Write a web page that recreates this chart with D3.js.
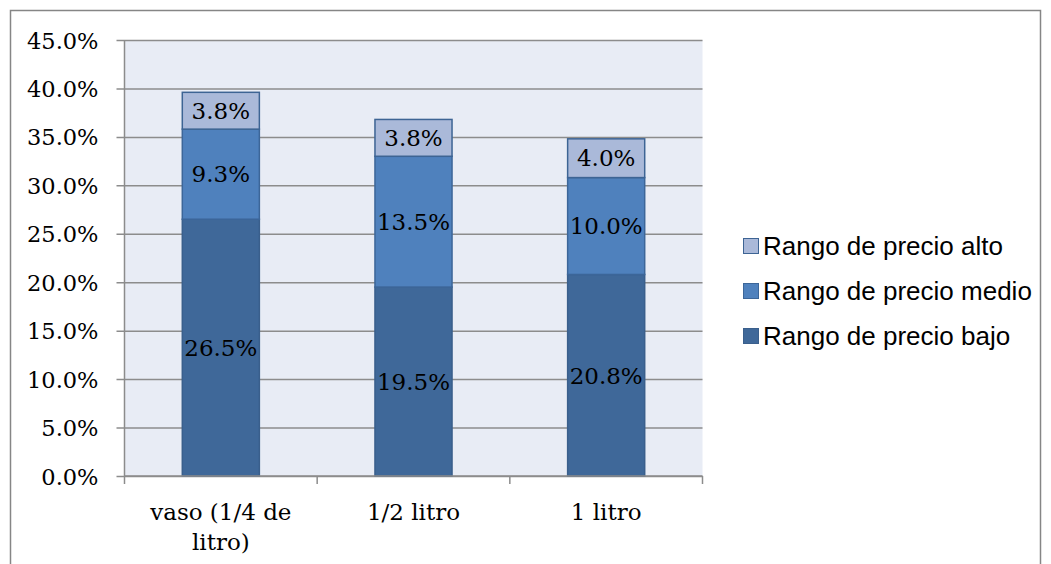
<!DOCTYPE html>
<html>
<head>
<meta charset="utf-8">
<script src="https://cdn.jsdelivr.net/npm/d3@7"></script>
<style>
  html, body { margin: 0; padding: 0; background: #fff; }
  svg { display: block; }
</style>
</head>
<body>
<svg id="chart" width="1051" height="564"></svg>
<script>
// Data
const categories = ["vaso (1/4 de litro)", "1/2 litro", "1 litro"];
const categoryLines = [["vaso (1/4 de", "litro)"], ["1/2 litro"], ["1 litro"]];
const seriesNames = ["Rango de precio bajo", "Rango de precio medio", "Rango de precio alto"];
const bajo = [26.5, 19.5, 20.8];
const medio = [9.3, 13.5, 10.0];
const alto = [3.8, 3.8, 4.0];
const yTicks = [0, 5, 10, 15, 20, 25, 30, 35, 40, 45];

const colors = ["#3F6899", "#4F81BD", "#AAB9D9"];
const strokes = ["#3A5F8C", "#3C6699", "#3D6494"];

const serif = "'DejaVu Serif', 'Liberation Serif', serif";
const sans = "'Liberation Sans', Arial, sans-serif";

const svg = d3.select("#chart");

// Outer chart border
svg.append("rect")
  .attr("x", 10.5).attr("y", 10.5)
  .attr("width", 1030).attr("height", 560)
  .attr("fill", "#fff").attr("stroke", "#868686").attr("stroke-width", 1.5);

const plot = { left: 124.5, top: 40, right: 702.5, bottom: 476 };

const x = d3.scaleBand()
  .domain(categories)
  .range([plot.left, plot.right])
  .paddingInner(0.6).paddingOuter(0.3);

const y = d3.scaleLinear().domain([0, 45]).range([plot.bottom, plot.top]);

// Plot background
svg.append("rect")
  .attr("x", plot.left).attr("y", plot.top)
  .attr("width", plot.right - plot.left).attr("height", plot.bottom - plot.top)
  .attr("fill", "#E8ECF5");

// Gridlines + y axis
const yAxis = d3.axisLeft(y)
  .tickValues(yTicks)
  .tickSize(plot.right - plot.left + 8)
  .tickFormat(d => d.toFixed(1) + "%");

const gy = svg.append("g")
  .attr("transform", `translate(${plot.right},0)`)
  .call(yAxis);
gy.select(".domain").remove();
gy.selectAll(".tick line").attr("stroke", "#8C8C8C").attr("stroke-width", 1.5);
gy.selectAll(".tick text")
  .attr("x", -(plot.right - plot.left) - 26)
  .attr("dy", "0.36em")
  .attr("font-family", serif)
  .attr("font-size", 22.5)
  .attr("fill", "#000");

// y axis line
svg.append("line")
  .attr("x1", plot.left).attr("x2", plot.left)
  .attr("y1", plot.top).attr("y2", plot.bottom)
  .attr("stroke", "#8C8C8C").attr("stroke-width", 1.5);

// Stacked bars
const rows = categories.map((c, i) => ({ cat: c, bajo: bajo[i], medio: medio[i], alto: alto[i] }));
const stack = d3.stack().keys(["bajo", "medio", "alto"]);
const layers = stack(rows);

layers.forEach((layer, li) => {
  svg.append("g").selectAll("rect").data(layer).enter().append("rect")
    .attr("x", d => x(d.data.cat))
    .attr("y", d => y(d[1]))
    .attr("width", x.bandwidth())
    .attr("height", d => y(d[0]) - y(d[1]))
    .attr("fill", colors[li])
    .attr("stroke", strokes[li])
    .attr("stroke-width", 1.5);
});

// Segment value labels
layers.forEach((layer) => {
  svg.append("g").selectAll("text").data(layer).enter().append("text")
    .attr("x", d => x(d.data.cat) + x.bandwidth() / 2)
    .attr("y", d => y((d[0] + d[1]) / 2))
    .attr("dy", "0.36em")
    .attr("text-anchor", "middle")
    .attr("font-family", serif)
    .attr("font-size", 23)
    .attr("fill", "#000")
    .text(d => (d[1] - d[0]).toFixed(1) + "%");
});

// x axis line and ticks
svg.append("line")
  .attr("x1", plot.left).attr("x2", plot.right)
  .attr("y1", plot.bottom).attr("y2", plot.bottom)
  .attr("stroke", "#8C8C8C").attr("stroke-width", 1.5);

const boundaries = d3.range(categories.length + 1).map(i => plot.left + i * (plot.right - plot.left) / categories.length);
svg.append("g").selectAll("line").data(boundaries).enter().append("line")
  .attr("x1", d => d).attr("x2", d => d)
  .attr("y1", plot.bottom).attr("y2", plot.bottom + 8)
  .attr("stroke", "#8C8C8C").attr("stroke-width", 1.5);

// Category labels
categories.forEach((c, i) => {
  const cx = x(c) + x.bandwidth() / 2;
  const t = svg.append("text")
    .attr("x", cx)
    .attr("y", 520)
    .attr("text-anchor", "middle")
    .attr("font-family", serif)
    .attr("font-size", 23)
    .attr("fill", "#000");
  categoryLines[i].forEach((line, j) => {
    t.append("tspan").attr("x", cx).attr("dy", j === 0 ? 0 : 30).text(line);
  });
});

// Legend (top-to-bottom: alto, medio, bajo)
const legendOrder = [2, 1, 0];
const legend = svg.append("g");
legendOrder.forEach((si, k) => {
  const cy = 246 + k * 45;
  legend.append("rect")
    .attr("x", 743.5).attr("y", cy - 7.5)
    .attr("width", 15).attr("height", 15)
    .attr("fill", colors[si]).attr("stroke", strokes[si]).attr("stroke-width", 1);
  legend.append("text")
    .attr("x", 763).attr("y", cy)
    .attr("dy", "0.35em")
    .attr("font-family", sans)
    .attr("font-size", 26)
    .attr("fill", "#000")
    .text(seriesNames[si]);
});
</script>
</body>
</html>
